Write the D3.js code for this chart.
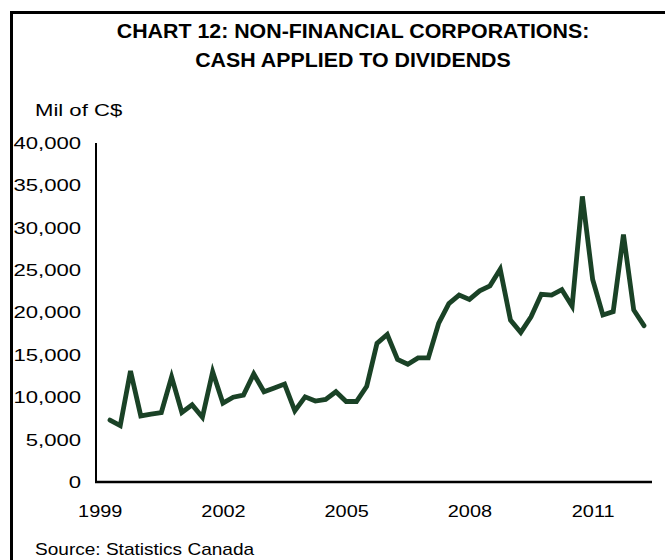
<!DOCTYPE html>
<html>
<head>
<meta charset="utf-8">
<script src="https://cdn.jsdelivr.net/npm/d3@7"></script>
<style>
  html, body { margin: 0; padding: 0; background: #fff; }
  svg { display: block; }
  text { font-family: "Liberation Sans", Arial, sans-serif; fill: #000; }
</style>
</head>
<body>
<svg id="chart" width="665" height="560"></svg>
<script>
// ---- Data (quarterly, 1999 Q2 .. 2012 Q2), millions of C$ ----
const startYear = 1999.25;          // first observation: 1999 Q2
const values = [
  7300, 6650, 13100, 7800, 8000, 8200, 12400, 8200, 9100, 7650, 13000, 9300,
  10000, 10250, 12750, 10650, 11100, 11550, 8400, 10050, 9550, 9750, 10650, 9500,
  9500, 11300, 16350, 17400, 14450, 13900, 14650, 14650, 18700, 21050, 22050, 21550,
  22550, 23150, 25100, 19100, 17650, 19500, 22150, 22050, 22700, 20750, 33700, 23900,
  19700, 20100, 29200, 20300, 18450
];
const xTickYears = [1999, 2002, 2005, 2008, 2011];
const yTicks = [0, 5000, 10000, 15000, 20000, 25000, 30000, 35000, 40000];
const titleLines = ["CHART 12: NON-FINANCIAL CORPORATIONS:", "CASH APPLIED TO DIVIDENDS"];
const unitLabel = "Mil of C$";
const sourceLabel = "Source: Statistics Canada";

const data = values.map((v, i) => ({ t: startYear + i / 4, v }));

const svg = d3.select("#chart");

// horizontally widen text glyphs (reference type is wider than Arial)
function stretch(sel, k) {
  sel.each(function () {
    const w = this.getComputedTextLength();
    d3.select(this).attr("textLength", w * k).attr("lengthAdjust", "spacingAndGlyphs");
  });
}

// outer frame
svg.append("rect")
  .attr("x", 11.5).attr("y", 12.5)
  .attr("width", 660).attr("height", 560)
  .attr("fill", "none").attr("stroke", "#000").attr("stroke-width", 3);

// title
const title = svg.selectAll("text.title").data(titleLines).enter().append("text")
  .attr("class", "title")
  .attr("x", 353).attr("y", (d, i) => 38 + i * 29)
  .attr("text-anchor", "middle")
  .style("font-size", "19.5px").style("font-weight", "bold")
  .text(d => d);
stretch(title, 1.095);

stretch(svg.append("text").attr("x", 35).attr("y", 116)
  .style("font-size", "17px").text(unitLabel), 1.3);

stretch(svg.append("text").attr("x", 35).attr("y", 555)
  .style("font-size", "17px").text(sourceLabel), 1.12);

// scales
const x = d3.scaleLinear().domain([1999, 2012.25]).range([99.7, 644]);
const y = d3.scaleLinear().domain([0, 40000]).range([482, 143]);

// y axis
const yAxis = svg.append("g").attr("transform", "translate(96,0)")
  .call(d3.axisLeft(y).tickValues(yTicks).tickSize(0).tickPadding(15)
    .tickFormat(d3.format(",")));
yAxis.select(".domain").attr("stroke", "#000").attr("stroke-width", 2)
  .attr("d", `M0,${y(40000)}V${y(0)}`);
const yText = yAxis.selectAll("text").style("font-size", "17px")
  .style("font-family", "'Liberation Sans', Arial, sans-serif").attr("fill", "#000");
stretch(yText, 1.3);

// x axis
const xAxis = svg.append("g").attr("transform", `translate(0,${y(0)})`)
  .call(d3.axisBottom(x).tickValues(xTickYears).tickSize(0).tickPadding(23)
    .tickFormat(d3.format("d")));
xAxis.select(".domain").attr("stroke", "#000").attr("stroke-width", 2.5)
  .attr("d", `M95,0H652`);
const xText = xAxis.selectAll("text").style("font-size", "17px")
  .style("font-family", "'Liberation Sans', Arial, sans-serif").attr("fill", "#000");
stretch(xText, 1.17);

// line
const line = d3.line().x(d => x(d.t)).y(d => y(d.v));
svg.append("path").datum(data)
  .attr("d", line)
  .attr("fill", "none")
  .attr("stroke", "#1a4226")
  .attr("stroke-width", 4.8)
  .attr("stroke-linejoin", "miter")
  .attr("stroke-linecap", "round");
</script>
</body>
</html>
